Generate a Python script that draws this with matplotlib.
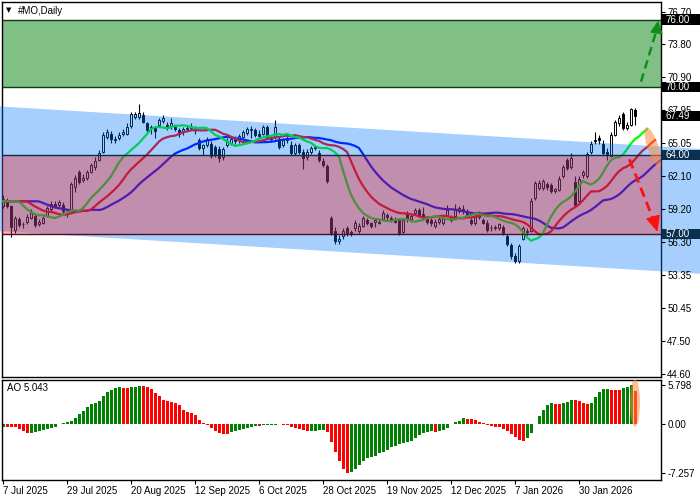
import numpy as np
import matplotlib
matplotlib.use("Agg")
import matplotlib.pyplot as plt
from matplotlib.patches import Rectangle, Polygon, Ellipse
from matplotlib.transforms import blended_transform_factory, IdentityTransform

plt.rcParams['font.family'] = ['Liberation Sans', 'DejaVu Sans']

# daily OHLC (#MO, 7 Jul 2025 .. Feb 2026)
opens = [59.5, 59.9, 59.45, 57.4, 58.3, 57.85, 58.1, 58.4, 58.6, 57.9,
         58.0, 58.6, 59.2, 59.7, 59.55, 59.6, 58.8, 59.0, 61.2, 62.5,
         61.8, 61.95, 62.5, 62.9, 63.6, 64.3, 65.6, 65.9, 65.35, 65.5,
         65.85, 65.9, 66.6, 67.4, 67.4, 67.55, 66.8, 66.35, 66.4, 66.65,
         67.0, 66.7, 66.6, 66.5, 66.2, 66.0, 66.3, 66.4, 66.4, 65.3,
         64.65, 64.9, 64.95, 64.7, 64.5, 63.8, 64.9, 65.1, 65.4, 65.3,
         65.6, 65.95, 66.3, 66.2, 65.9, 65.9, 66.5, 65.6, 65.6, 65.4,
         64.9, 65.3, 64.9, 64.2, 64.9, 64.3, 63.85, 64.3, 64.6, 64.2,
         63.5, 63.0, 58.4, 57.3, 56.4, 56.8, 57.5, 57.2, 57.5, 57.3,
         57.7, 58.25, 57.95, 58.1, 58.1, 58.3, 58.7, 58.4, 58.3, 58.2,
         57.2, 58.8, 58.3, 58.85, 59.1, 58.8, 58.4, 58.2, 57.7, 58.1,
         58.0, 58.7, 58.5, 58.6, 59.0, 59.2, 59.0, 58.25, 57.95, 58.5,
         58.2, 57.95, 57.55, 57.5, 57.5, 57.65, 56.8, 56.0, 55.1, 54.6,
         56.6, 57.3, 57.3, 60.2, 61.1, 61.1, 61.4, 61.3, 60.8, 60.9,
         62.1, 63.55, 62.95, 61.6, 59.9, 62.2, 62.1, 64.3, 65.2, 65.5,
         65.0, 64.3, 63.9, 65.8, 66.8, 67.6, 66.4, 66.7, 68.0]
highs = [60.5, 60.2, 59.6, 58.6, 58.5, 58.1, 58.8, 59.2, 58.9, 58.3,
         58.6, 59.5, 59.9, 59.9, 60.0, 59.8, 59.2, 61.6, 62.2, 62.7,
         62.3, 62.7, 63.3, 63.8, 64.4, 66.0, 66.3, 66.1, 65.7, 66.0,
         66.3, 66.8, 67.8, 67.8, 68.55, 67.8, 66.9, 66.7, 66.6, 67.3,
         67.5, 66.9, 67.3, 66.7, 66.4, 66.5, 66.6, 66.8, 66.6, 65.5,
         65.0, 65.6, 65.2, 64.9, 64.8, 64.7, 65.5, 65.6, 65.7, 65.9,
         66.2, 66.5, 66.6, 66.4, 66.2, 66.7, 66.7, 65.8, 67.1, 65.6,
         65.5, 65.7, 65.2, 65.1, 65.1, 64.5, 64.5, 64.8, 64.9, 64.4,
         63.7, 63.2, 58.6, 57.6, 56.9, 57.5, 57.7, 57.4, 58.2, 58.0,
         58.6, 58.4, 58.1, 58.4, 58.3, 59.1, 58.9, 58.6, 58.5, 58.4,
         58.4, 59.0, 58.8, 59.3, 59.3, 59.4, 58.6, 58.4, 58.3, 58.5,
         58.6, 59.6, 58.7, 59.7, 59.5, 59.6, 59.2, 58.4, 58.7, 59.0,
         58.4, 58.2, 57.8, 57.8, 58.0, 57.8, 57.0, 56.2, 55.3, 56.1,
         57.7, 57.5, 60.2, 61.7, 61.8, 61.9, 61.6, 61.5, 61.1, 62.1,
         63.1, 63.7, 64.15, 62.1, 62.1, 62.7, 64.3, 65.2, 66.05, 65.8,
         65.3, 64.6, 66.0, 67.1, 67.5, 67.8, 66.9, 68.2, 68.15]
lows = [59.3, 59.3, 56.75, 57.1, 57.6, 57.5, 57.9, 58.3, 57.6, 57.7,
        57.9, 58.5, 59.0, 59.3, 59.4, 58.8, 58.5, 58.9, 60.7, 61.4,
        61.6, 61.8, 62.4, 62.7, 63.5, 64.2, 65.4, 65.1, 65.1, 65.3,
        65.7, 65.8, 66.4, 67.2, 67.2, 66.8, 66.0, 65.9, 65.5, 66.5,
        66.8, 66.2, 66.3, 66.1, 65.6, 65.8, 66.1, 66.2, 65.9, 64.4,
        64.0, 64.7, 63.7, 63.8, 63.4, 63.6, 64.7, 64.9, 65.0, 65.1,
        65.5, 65.8, 65.5, 65.6, 65.5, 65.8, 65.4, 65.2, 65.4, 64.5,
        64.7, 65.1, 64.0, 64.0, 64.1, 62.8, 63.6, 64.1, 64.4, 63.4,
        62.9, 61.5, 56.9, 56.1, 56.1, 56.6, 56.8, 56.8, 57.3, 57.1,
        57.6, 57.8, 57.5, 57.6, 57.9, 58.2, 58.2, 58.1, 58.0, 56.9,
        57.1, 58.1, 58.1, 58.7, 58.6, 58.4, 57.9, 57.7, 57.5, 57.9,
        57.8, 58.6, 58.1, 58.5, 58.9, 58.8, 58.5, 57.8, 57.8, 58.3,
        57.9, 57.2, 57.3, 57.4, 57.4, 56.9, 55.9, 54.8, 54.4, 54.4,
        56.5, 56.9, 57.2, 60.0, 60.9, 60.9, 60.9, 60.6, 60.6, 60.8,
        62.0, 62.7, 62.8, 59.4, 59.7, 62.0, 62.0, 64.1, 65.0, 65.0,
        64.0, 63.55, 63.8, 65.7, 66.6, 66.2, 66.2, 66.6, 66.7]
closes = [60.1, 59.5, 57.65, 58.4, 57.8, 57.9, 58.55, 58.85, 57.8, 58.1,
          58.4, 59.3, 59.7, 59.5, 59.8, 59.0, 58.9, 61.4, 62.0, 61.65,
          62.0, 62.5, 63.1, 63.5, 64.2, 65.8, 66.0, 65.4, 65.45, 65.8,
          66.0, 66.5, 67.6, 67.6, 67.7, 66.95, 66.2, 66.5, 66.1, 67.1,
          67.3, 66.4, 66.8, 66.3, 65.9, 66.3, 66.4, 66.5, 66.2, 64.6,
          64.85, 65.4, 63.9, 64.0, 63.75, 64.5, 65.2, 65.4, 65.25, 65.7,
          66.0, 66.3, 66.2, 65.8, 65.7, 66.5, 65.6, 65.4, 66.5, 64.7,
          65.3, 65.5, 64.2, 64.9, 64.3, 63.7, 64.3, 64.6, 64.75, 63.6,
          63.1, 61.7, 57.1, 56.4, 56.55, 57.3, 57.1, 57.0, 57.95, 57.7,
          58.4, 57.95, 57.7, 58.2, 58.0, 58.9, 58.5, 58.3, 58.1, 57.1,
          58.2, 58.3, 58.6, 59.1, 58.7, 58.5, 58.1, 57.95, 58.1, 58.3,
          58.4, 59.1, 58.25, 59.1, 59.3, 59.0, 58.7, 57.95, 58.5, 58.7,
          58.0, 57.4, 57.5, 57.6, 57.85, 57.05, 56.1, 55.05, 54.6, 55.9,
          57.5, 57.2, 59.9, 61.5, 61.55, 61.7, 61.2, 60.8, 60.95, 61.9,
          62.9, 62.85, 63.7, 59.6, 61.9, 62.5, 64.1, 65.0, 65.35, 65.3,
          64.15, 64.1, 65.8, 66.95, 67.25, 66.4, 66.7, 68.05, 67.49]

# Awesome Oscillator histogram
ao = [-0.35, -0.37, -0.40, -0.45, -0.70, -1.05, -1.35, -1.25, -1.10, -1.00,
      -0.85, -0.75, -0.60, -0.35, 0.10, 0.25, 0.40, 0.55, 1.00, 1.50,
      2.05, 2.60, 3.05, 3.25, 3.45, 4.20, 4.75, 5.10, 5.35, 5.50,
      5.48, 5.45, 5.50, 5.62, 5.78, 5.76, 5.60, 5.20, 4.70, 4.20,
      3.70, 3.45, 3.35, 3.20, 2.90, 2.20, 1.80, 1.65, 1.35, 0.70,
      0.25, -0.05, -0.55, -0.95, -1.25, -1.40, -1.45, -1.20, -1.05, -0.80,
      -0.65, -0.50, -0.35, -0.25, -0.30, -0.15, -0.12, -0.10, -0.05, 0.12,
      -0.05, -0.10, -0.35, -0.50, -0.75, -0.90, -1.00, -0.95, -0.93, -0.92,
      -0.90, -1.20, -2.60, -4.10, -5.45, -6.70, -7.257, -7.05, -6.70, -6.10,
      -5.45, -5.10, -4.95, -4.70, -4.35, -4.10, -3.85, -3.45, -3.25, -2.95,
      -2.85, -2.60, -2.45, -2.10, -1.60, -1.35, -1.15, -1.05, -1.15, -1.00,
      -0.85, -0.60, 0.05, 0.30, 0.55, 0.90, 0.85, 0.72, 0.60, 0.40,
      0.15, -0.10, -0.25, -0.35, -0.45, -0.75, -1.00, -1.45, -1.85, -2.40,
      -2.45, -2.10, -1.30, 0.05, 1.25, 2.15, 2.90, 3.15, 3.05, 3.03,
      3.15, 3.30, 3.70, 3.60, 3.45, 3.15, 3.10, 3.12, 4.15, 4.75,
      5.25, 5.27, 5.15, 5.12, 5.10, 5.40, 5.60, 5.798, 5.043]

date_labels = ['7 Jul 2025', '29 Jul 2025', '20 Aug 2025', '12 Sep 2025', '6 Oct 2025',
               '28 Oct 2025', '19 Nov 2025', '12 Dec 2025', '7 Jan 2026', '30 Jan 2026']
price_ticks = [76.70, 73.80, 70.90, 67.95, 65.05, 62.10, 59.20, 56.30, 53.35, 50.45, 47.50, 44.60]
ao_ticks = [5.798, 0.0, -7.257]
ao_tick_labels = ['5.798', '0.00', '-7.257']

# drawn levels
buy_zone = (70.0, 76.0)
sell_zone = (57.0, 64.0)
last_price = 67.49
channel_top = (68.30, 64.54)      # price at bar -0.75 and bar 174.25
channel_bottom = (57.25, 53.49)


def smma(values, n):
    out = np.empty(len(values))
    out[0] = values[0]
    for k in range(1, len(values)):
        out[k] = (out[k - 1] * (n - 1) + values[k]) / n
    return out


o = np.array(opens); h = np.array(highs); l = np.array(lows); c = np.array(closes)
x = np.arange(len(c))

fig = plt.figure(figsize=(7, 5), dpi=100)
ax = fig.add_axes([2 / 700, 123 / 500, 659 / 700, 375 / 500])
ax2 = fig.add_axes([2 / 700, 20.5 / 500, 659 / 700, 100 / 500])

ax.set_xlim(-0.25, 164.5)
ax.set_ylim(44.34, 77.55)
ax2.set_xlim(-0.25, 164.5)
ax2.set_ylim(-8.24, 6.69)

# candles
up = c >= o
ax.vlines(x, l, h, color='black', lw=0.8, zorder=2)
body = np.maximum(np.abs(c - o), 0.04)
ax.bar(x, body, bottom=np.minimum(o, c), width=0.55,
       color=np.where(up, 'white', 'black'), edgecolor='black', linewidth=0.7, zorder=2.5)

# alligator (jaw / teeth / lips), shifted forward
med = (h + l) / 2
for n, shift, col in [(13, 8, '#0000ff'), (8, 5, '#ff0000'), (5, 3, '#00ff00')]:
    vals = smma(med, n)
    ax.plot(np.r_[-1, x + shift], np.r_[vals[0], vals], color=col, lw=1.6, zorder=3)

# zones and channel
ax.axhspan(*buy_zone, fc='#80c085', ec='none', zorder=1)
ax.axhline(buy_zone[0], color='#123a12', lw=1, zorder=1.5)
ax.axhline(buy_zone[1], color='#123a12', lw=1, zorder=1.5)
chan = Polygon([(-0.75, channel_top[0]), (174.25, channel_top[1]),
                (174.25, channel_bottom[1]), (-0.75, channel_bottom[0])],
               closed=True, fc=(0, 0.47, 0.98), alpha=0.35, ec='none', zorder=4, clip_on=False)
ax.add_patch(chan)
ax.axhspan(*sell_zone, fc=(1, 0, 0), alpha=0.31, ec='none', zorder=5)
ax.axhline(sell_zone[1], color='#0d2b45', lw=1, zorder=5.5)
ax.axhline(sell_zone[0], color='#4a1020', lw=1, zorder=5.5)

# arrows
ax.plot([156.6, 162.9], [63.62, 58.0], color='#ff1010', lw=2, ls=(0, (3.5, 2)), zorder=6)
ax.annotate('', xy=(163.6, 57.2), xytext=(162.6, 58.4),
            arrowprops=dict(arrowstyle='-|>,head_length=0.7,head_width=0.32', color='#ff1010',
                            lw=1, shrinkA=0, shrinkB=0, mutation_scale=14), zorder=6)
ax.plot([159.5, 163.5], [70.49, 75.2], color='#10901a', lw=1.8, ls=(0, (3.5, 2)), zorder=6)
ax.annotate('', xy=(163.8, 75.9), xytext=(163.4, 74.9),
            arrowprops=dict(arrowstyle='-|>,head_length=0.6,head_width=0.3', color='#10901a',
                            lw=1, shrinkA=0, shrinkB=0, mutation_scale=13), zorder=6)

# orange highlight ellipses (sized in pixels)
fig.canvas.draw()
cx, cy = ax.transData.transform((162.5, 64.7))
ax.add_patch(Ellipse((cx, cy), 11, 42, angle=19, transform=IdentityTransform(),
                     fc=(1, 0.55, 0.25, 0.55), ec='none', zorder=6))
cx2, cy2 = ax2.transData.transform((158, 3.2))
ax2.add_patch(Ellipse((cx2, cy2), 10, 48, transform=IdentityTransform(),
                      fc=(1, 0.55, 0.25, 0.55), ec='none', zorder=6))

# AO histogram
ao_arr = np.array(ao)
ao_up = np.r_[True, np.diff(ao_arr) > 0]
ax2.bar(x, ao_arr, width=0.75, color=np.where(ao_up, '#008000', '#ff0000'), zorder=2)

# axes cosmetics
for a in (ax, ax2):
    for s in a.spines.values():
        s.set_color('black')
        s.set_linewidth(1)
    a.yaxis.tick_right()
    a.tick_params(axis='y', length=3, pad=1.5, labelsize=7, colors='black')

ax.set_xticks([])
ax.set_yticks(price_ticks)
ax.set_yticklabels([f'{v:.2f}' for v in price_ticks])
ax.yaxis.set_zorder(7)

ax2.set_yticks(ao_ticks)
ax2.set_yticklabels(ao_tick_labels)
ax2.set_xticks(np.arange(len(date_labels)) * 16)
ax2.set_xticklabels(date_labels, ha='left')
ax2.tick_params(axis='x', length=3, pad=1.5, labelsize=7)

# price tags on the right scale
tr = blended_transform_factory(ax.transAxes, ax.transData)
for val, fc in [(buy_zone[1], 'black'), (buy_zone[0], 'black'), (last_price, 'black'),
                (sell_zone[1], '#0b2f4f'), (sell_zone[0], '#0b2f4f')]:
    ax.add_patch(Rectangle((1.001, val - 0.45), 0.07, 0.9, transform=tr, fc=fc, ec='none',
                           clip_on=False, zorder=8))
    ax.text(1.007, val, f'{val:.2f}', transform=tr, color='white', fontsize=7,
            va='center', ha='left', zorder=9, clip_on=False)

ax.text(0.006, 0.977, '\u25bc', transform=ax.transAxes, fontsize=5, va='center', ha='left',
        family='DejaVu Sans', zorder=9)
ax.text(0.024, 0.977, '#MO,Daily', transform=ax.transAxes, fontsize=7, va='center', ha='left',
        zorder=9)
ax2.text(0.008, 0.912, 'AO 5.043', transform=ax2.transAxes, fontsize=7, va='center', ha='left')

fig.savefig('out.png', dpi=100)
